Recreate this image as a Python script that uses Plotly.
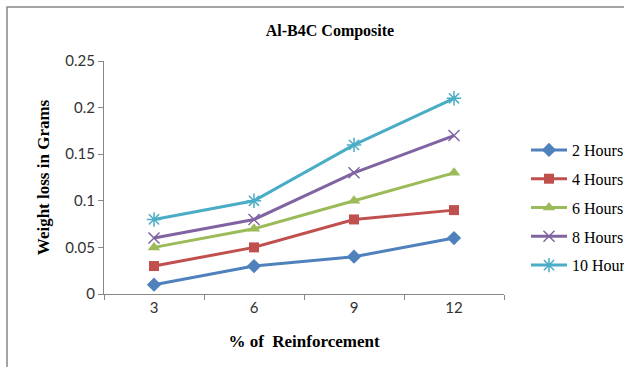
import plotly.graph_objects as go

# Wear test data: weight loss (g) versus % B4C reinforcement
reinforcement = ["3", "6", "9", "12"]
hours_2 = [0.01, 0.03, 0.04, 0.06]
hours_4 = [0.03, 0.05, 0.08, 0.09]
hours_6 = [0.05, 0.07, 0.10, 0.13]
hours_8 = [0.06, 0.08, 0.13, 0.17]
hours_10 = [0.08, 0.10, 0.16, 0.21]
y_ticks = [0, 0.05, 0.1, 0.15, 0.2, 0.25]
y_tick_text = ["0", "0.05", "0.1", "0.15", "0.2", "0.25"]

series = [
    ("2 Hours", hours_2, "#4F81BD", dict(symbol="diamond", size=11)),
    ("4 Hours", hours_4, "#C0504D", dict(symbol="square", size=10)),
    ("6 Hours", hours_6, "#9BBB59", dict(symbol="triangle-up", size=11)),
    ("8 Hours", hours_8, "#8064A2", dict(symbol="x-thin-open", size=11, line=dict(width=1.5))),
    ("10 Hours", hours_10, "#4BACC6", dict(symbol="asterisk-open", size=12, line=dict(width=1.5))),
]

fig = go.Figure()
for name, vals, color, marker in series:
    mk = dict(color=color, **marker)
    if "line" in mk:
        mk["line"] = dict(color=color, width=mk["line"]["width"])
    fig.add_trace(go.Scatter(
        x=reinforcement, y=vals, name=name, mode="lines+markers",
        line=dict(color=color, width=3), marker=mk, legendgroup=name,
    ))

axis_grey = "#868686"
serif = "Liberation Serif"
sans = "Lato, Open Sans, sans-serif"

fig.update_layout(
    width=624, height=367,
    margin=dict(l=104, r=120, t=61, b=73, autoexpand=False),
    paper_bgcolor="white", plot_bgcolor="white",
    title=dict(text="<b>Al-B4C Composite</b>", x=330 / 624, xanchor="center",
               y=1 - 30 / 367, yanchor="middle",
               font=dict(family=serif, size=16, color="#000000")),
    xaxis=dict(
        type="category", range=[-0.5, 3.5],
        showline=True, linecolor=axis_grey, linewidth=1,
        ticks="outside", tickson="boundaries", ticklen=5, tickcolor=axis_grey,
        showgrid=False, zeroline=False,
        tickfont=dict(family=sans, size=15, color="#333333"),
        title=dict(text="<b>% of  Reinforcement</b>", standoff=20,
                   font=dict(family=serif, size=17, color="#000000")),
    ),
    yaxis=dict(
        range=[0, 0.25], tickvals=y_ticks, ticktext=y_tick_text,
        showline=True, linecolor=axis_grey, linewidth=1,
        ticks="outside", ticklen=5, tickcolor=axis_grey,
        showgrid=False, zeroline=False,
        tickfont=dict(family=sans, size=15, color="#333333"),
        title=dict(text="<b>Weight loss in Grams</b>", standoff=11,
                   font=dict(family=serif, size=17, color="#000000")),
    ),
    legend=dict(
        x=(526 - 104) / 400, xanchor="left",
        y=(294 - 133) / 233, yanchor="top",
        font=dict(family=serif, size=16, color="#000000"),
        tracegroupgap=5, itemwidth=36, bgcolor="rgba(0,0,0,0)",
    ),
    showlegend=True,
)

# Chart frame (extends past the right and bottom edges of the page)
fig.add_shape(type="rect", xref="paper", yref="paper",
              x0=(7 - 104) / 400, x1=(640 - 104) / 400,
              y0=(294 - 380) / 233, y1=(294 - 7) / 233,
              line=dict(color=axis_grey, width=1.5), layer="below")

fig.write_html("out.html")
